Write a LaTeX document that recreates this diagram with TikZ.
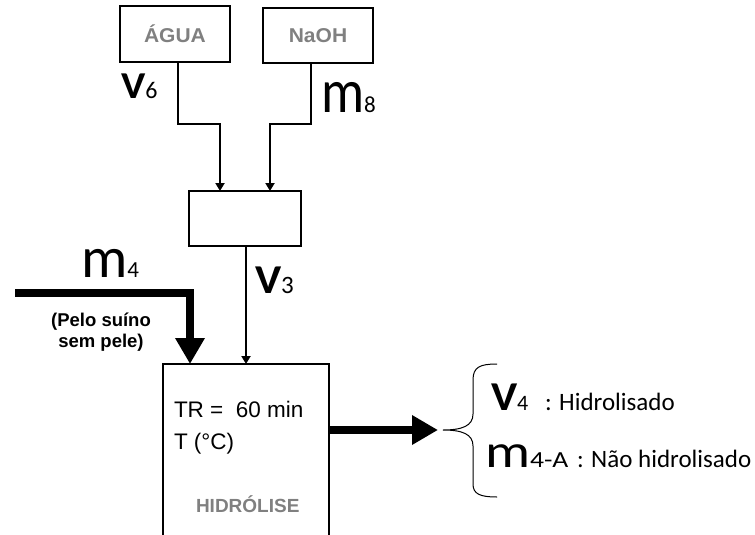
\documentclass[tikz,border=0pt]{standalone}
\usepackage{fontspec}
\usepackage{graphicx}
\setmainfont{Liberation Sans}
\newfontfamily\calib{Carlito}
\usetikzlibrary{arrows.meta}
\newcommand\fs[1]{\fontsize{#1}{#1}\selectfont}
% big variable label: subscript, letter size, subscript size
\newcommand\varV[3]{\calib\bfseries\scalebox{1.08}[1]{\fs{#2}V}\mdseries\fs{#3}#1}
\newcommand\varM[3]{\calib\fs{#2}m\fs{#3}#1}
\begin{document}
\begin{tikzpicture}[x=1pt,y=-1pt,
  every node/.style={inner sep=0pt, outer sep=0pt},
  srcbox/.style={draw, line width=1.5pt, minimum width=110pt, minimum height=56pt,
     text=black!50, font=\bfseries\fs{20}},
  plainbox/.style={draw, line width=1.5pt},
  thinarr/.style={line width=2pt, -{Triangle[length=8pt,width=9pt]}},
  thickarr/.style={line width=8pt, -{Triangle[length=26pt,width=28pt]}},
  lbl/.style={anchor=base west}]
\useasboundingbox (0,0) rectangle (755,535);
\clip (0,0) rectangle (755,535);

% boxes
\node[srcbox] (agua) at (175,34) {\scalebox{1.05}[1]{ÁGUA}};
\node[srcbox, minimum height=55pt] (naoh) at (318,35.5) {\scalebox{1.05}[1]{NaOH}};
\node[plainbox, minimum width=112pt, minimum height=55pt] (mix) at (245,218.5) {};
\node[plainbox, minimum width=166pt, minimum height=240pt] (hid) at (246,484) {};

% texts in hydrolysis box
\node[lbl, font=\fs{22.5}] (tr) at (174,417) {TR =\ \ 60 min};
\node[lbl, font=\fs{22.5}] (tc) at (174,449) {T (°C)};
\node[lbl, font=\bfseries\fs{19}, text=black!50] (hl) at (196,512) {HIDRÓLISE};

% junction coordinates
\coordinate (a1) at (178,124);
\coordinate (n1) at (311,124);
\coordinate (m4s) at (15,293);
\coordinate (out) at (438,430);

% connectors
\draw[thinarr] (agua.south -| a1) -- (a1) -| ([xshift=-25pt]mix.north);
\draw[thinarr] (naoh.south -| n1) -- (n1) -| ([xshift=25pt]mix.north);
\draw[thinarr] ([xshift=1pt]mix.south) -- ([xshift=1pt]mix.south |- hid.north);
\draw[thickarr] (m4s) -| ([xshift=-56pt]hid.north);
\draw[thickarr] (hid.east |- out) -- (out);

% brace
\coordinate (bt) at (497,364);
\coordinate (bb) at (497,497);
\coordinate (btip) at (443,430);
\draw[line width=1pt] (bt) .. controls (480,364) and (473,367) .. (473,380)
  -- (473,414) .. controls (473,426) and (462,430) .. (btip)
  .. controls (462,430) and (473,434) .. (473,446)
  -- (473,484) .. controls (473,494) and (480,497) .. (bb);

% variable labels
\node[lbl] (v6) at (121,98) {\varV{6}{38}{24}};
\node[lbl] (m8) at (321,112) {\scalebox{0.87}[1]{\calib\fs{62}m}\calib\fs{23}8};
\node[lbl] (m4) at (81,277) {\varM{4}{58}{23}};
\node[lbl] (v3) at (255,293) {\varV{3}{41}{25}};
\node[lbl] (v4) at (491,410) {\varV{4}{41}{22}};
\node[lbl] (m4a) at (485,467) {\scalebox{1.2}[1]{\calib\fs{47}m}\scalebox{1.2}[1]{\calib\fs{23}4-A}};
\node[lbl, font=\calib\fs{25}] (hidr) at (545,410) {: Hidrolisado};
\node[lbl, font=\calib\fs{25}] (nhidr) at (577,467) {: Não hidrolisado};

\node[font=\bfseries\fs{18.5}, align=center] (pelo) at (101,332) {(Pelo suíno\\[2pt]sem pele)};
\end{tikzpicture}
\end{document}
